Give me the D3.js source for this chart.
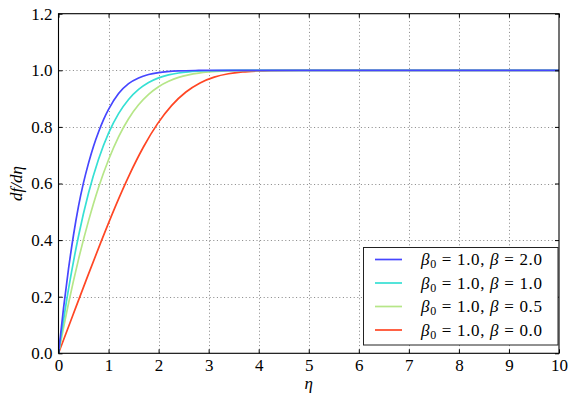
<!DOCTYPE html>
<html><head><meta charset="utf-8">
<script src="https://cdn.jsdelivr.net/npm/d3@7"></script>
</head>
<body style="margin:0">
<svg id="chart" width="576" height="398"></svg>
<script>
// ---- data ----
const xTicks = [0,1,2,3,4,5,6,7,8,9,10];
const yTicks = [0.0,0.2,0.4,0.6,0.8,1.0,1.2];

const etaB2 = [0,0.1,0.2,0.3,0.4,0.5,0.6,0.7,0.8,0.9,1.0,1.2,1.4,1.6,1.8,2.0,2.4,2.8,3.2,10];
const fpB2  = [0,0.159,0.298,0.418,0.52,0.603,0.672,0.732,0.782,0.826,0.862,0.918,0.953,0.973,0.985,0.992,0.998,0.9995,1.0,1.0];

const etaB1 = [0,0.2,0.4,0.6,0.8,1.0,1.2,1.4,1.6,1.8,2.0,2.2,2.4,2.6,3.0,3.4,4.0,10];
const fpB1  = [0,0.2266,0.4145,0.5663,0.6859,0.7779,0.8467,0.8968,0.9323,0.9568,0.9732,0.9839,0.9905,0.9946,0.9984,0.9996,1.0,1.0];

const etaB05 = [0,0.2,0.4,0.6,0.8,1.0,1.2,1.4,1.6,1.8,2.0,2.2,2.4,2.6,2.8,3.0,3.4,3.8,4.2,10];
const fpB05  = [0,0.176,0.332,0.468,0.586,0.684,0.765,0.829,0.878,0.915,0.942,0.961,0.975,0.984,0.990,0.994,0.998,0.9995,1.0,1.0];

const etaB0 = [0,0.283,0.566,0.849,1.131,1.414,1.697,1.980,2.263,2.546,2.828,3.111,3.394,3.677,3.960,4.243,4.808,10];
const fpB0  = [0,0.1328,0.2647,0.3938,0.5168,0.6298,0.7290,0.8115,0.8761,0.9233,0.9555,0.9759,0.9878,0.9943,0.9975,0.9990,0.9999,1.0];

const betaLabels = ["2.0","1.0","0.5","0.0"];
const seriesColors = ["#4646ff","#36e0d4","#b6e688","#ff4624"];

const series = [
  {eta: etaB2, fp: fpB2},
  {eta: etaB1, fp: fpB1},
  {eta: etaB05, fp: fpB05},
  {eta: etaB0, fp: fpB0}
];

const FONT = "'Liberation Serif'";
const FS = 17;

// ---- layout ----
const L = 58.5, R = 559, T = 13.7, B = 353.3;
const svg = d3.select("#chart");
const x = d3.scaleLinear().domain([0,10]).range([L,R]);
const y = d3.scaleLinear().domain([0,1.2]).range([B,T]);

// grid
const grid = svg.append("g").attr("stroke","#666").attr("stroke-width",0.8).attr("stroke-dasharray","1,2.6");
grid.selectAll(".gx").data(xTicks.slice(1,-1)).enter().append("line")
  .attr("x1",d=>Math.round(x(d))+0.5).attr("x2",d=>Math.round(x(d))+0.5).attr("y1",B).attr("y2",T);
grid.selectAll(".gy").data(yTicks.slice(1,-1)).enter().append("line")
  .attr("y1",d=>Math.round(y(d))+0.5).attr("y2",d=>Math.round(y(d))+0.5).attr("x1",L).attr("x2",R);

// curves
const line = d3.line().x(d=>x(d[0])).y(d=>y(d[1])).curve(d3.curveMonotoneX);
const plot = svg.append("g");
plot.append("clipPath").attr("id","clip").append("rect").attr("x",L).attr("y",T).attr("width",R-L).attr("height",B-T);
series.slice().reverse().forEach((s,i)=>{
  const idx = series.length-1-i;
  plot.append("path").attr("clip-path","url(#clip)")
    .datum(s.eta.map((e,j)=>[e,s.fp[j]]))
    .attr("d",line).attr("fill","none")
    .attr("stroke",seriesColors[idx]).attr("stroke-width",1.7);
});

// axes (ticks inside, on all four sides)
const tickLen = 4;
const xb = svg.append("g").attr("transform",`translate(0,${B})`)
  .call(d3.axisBottom(x).tickValues(xTicks).tickSize(-tickLen).tickPadding(6).tickFormat(d3.format("d")));
const xt = svg.append("g").attr("transform",`translate(0,${T})`)
  .call(d3.axisTop(x).tickValues(xTicks).tickSize(-tickLen).tickFormat(""));
const yl = svg.append("g").attr("transform",`translate(${L},0)`)
  .call(d3.axisLeft(y).tickValues(yTicks).tickSize(-tickLen).tickPadding(6).tickFormat(d3.format(".1f")));
const yr = svg.append("g").attr("transform",`translate(${R},0)`)
  .call(d3.axisRight(y).tickValues(yTicks).tickSize(-tickLen).tickFormat(""));
[xb,xt,yl,yr].forEach(g=>{
  g.attr("font-family",null);
  g.select(".domain").remove();
  g.selectAll("line").attr("stroke","#000").attr("stroke-width",1);
  g.selectAll("text").attr("font-size",FS).attr("fill","#000").style("font-family",FONT);
});
svg.append("rect").attr("x",L).attr("y",T).attr("width",R-L).attr("height",B-T)
  .attr("fill","none").attr("stroke","#000").attr("stroke-width",1.1);

// axis labels
svg.append("text").attr("x",x(5)).attr("y",389).attr("text-anchor","middle")
  .attr("font-size",FS).attr("font-style","italic").style("font-family",FONT).text("η");
svg.append("text").attr("transform",`translate(22,${y(0.6)}) rotate(-90)`).attr("text-anchor","middle")
  .attr("font-size",FS).attr("font-style","italic").style("font-family",FONT).text("df/dη");

// legend
const lg = svg.append("g");
lg.append("rect").attr("x",363.5).attr("y",247.5).attr("width",194.5).attr("height",97.5)
  .attr("fill","#fff").attr("stroke","#222").attr("stroke-width",1);
const rowY = d3.scaleLinear().domain([0,3]).range([259.5,330]);
betaLabels.forEach((b,i)=>{
  const yy = rowY(i);
  lg.append("line").attr("x1",375).attr("x2",402).attr("y1",yy).attr("y2",yy)
    .attr("stroke",seriesColors[i]).attr("stroke-width",1.7);
  const t = lg.append("text").attr("x",421).attr("y",yy+5.5).attr("font-size",FS).style("font-family",FONT)
    .attr("textLength",121).attr("lengthAdjust","spacing");
  t.append("tspan").attr("font-style","italic").text("β");
  t.append("tspan").attr("font-size",12).attr("dy",3).text("0");
  t.append("tspan").attr("dy",-3).text(" = 1.0, ");
  t.append("tspan").attr("font-style","italic").text("β");
  t.append("tspan").text(" = " + b);
});
</script>
</body></html>
